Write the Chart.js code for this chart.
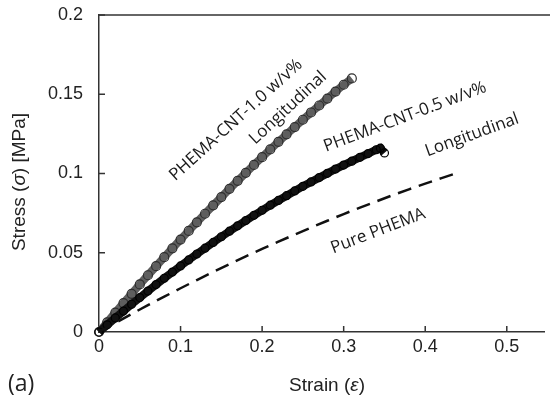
<!DOCTYPE html>
<html>
<head>
<meta charset="utf-8">
<script src="https://cdn.jsdelivr.net/npm/chart.js@4.4.1/dist/chart.umd.min.js"></script>
<style>
  html, body { margin: 0; padding: 0; background: #fff; overflow: hidden; }
</style>
</head>
<body>
<canvas id="c" width="550" height="411"></canvas>
<script>
// strain values (x) and stress values (y, MPa)
var strainCnt10 = [0, 0.01, 0.02, 0.03, 0.04, 0.05, 0.06, 0.07, 0.08, 0.09, 0.10, 0.11, 0.12, 0.13, 0.14, 0.15,
  0.16, 0.17, 0.18, 0.19, 0.20, 0.21, 0.22, 0.23, 0.24, 0.25, 0.26, 0.27, 0.28, 0.29, 0.30, 0.31];
var stressCnt10 = [0, 0.0061, 0.0122, 0.0182, 0.0241, 0.0300, 0.0358, 0.0415, 0.0472, 0.0528, 0.0583, 0.0638,
  0.0692, 0.0746, 0.0799, 0.0851, 0.0903, 0.0954, 0.1004, 0.1054, 0.1103, 0.1152, 0.1200, 0.1247, 0.1293,
  0.1339, 0.1385, 0.1429, 0.1473, 0.1517, 0.1560, 0.1600];

var strainCnt05 = [0, 0.01, 0.02, 0.03, 0.04, 0.05, 0.06, 0.07, 0.08, 0.09, 0.10, 0.11, 0.12, 0.13, 0.14, 0.15,
  0.16, 0.17, 0.18, 0.19, 0.20, 0.21, 0.22, 0.23, 0.24, 0.25, 0.26, 0.27, 0.28, 0.29, 0.30, 0.31, 0.32, 0.33,
  0.34, 0.345, 0.35];
var stressCnt05 = [0, 0.0045, 0.0089, 0.0132, 0.0175, 0.0217, 0.0258, 0.0299, 0.0339, 0.0378, 0.0417, 0.0455,
  0.0492, 0.0529, 0.0565, 0.0601, 0.0636, 0.0670, 0.0703, 0.0736, 0.0768, 0.0800, 0.0830, 0.0860, 0.0890,
  0.0919, 0.0947, 0.0974, 0.1001, 0.1028, 0.1053, 0.1078, 0.1102, 0.1126, 0.1150, 0.1160, 0.1130];

var strainPure = [0, 0.02, 0.04, 0.06, 0.08, 0.10, 0.12, 0.14, 0.16, 0.18, 0.20, 0.22, 0.24, 0.26, 0.28, 0.30,
  0.32, 0.34, 0.36, 0.38, 0.40, 0.42, 0.44];
var stressPure = [0, 0.0057, 0.0114, 0.0169, 0.0223, 0.0276, 0.0328, 0.0379, 0.0428, 0.0477, 0.0524, 0.0570,
  0.0615, 0.0659, 0.0702, 0.0744, 0.0785, 0.0824, 0.0863, 0.0900, 0.0936, 0.0971, 0.1005];

var xTicks = [0, 0.1, 0.2, 0.3, 0.4, 0.5];
var yTicks = [0, 0.05, 0.1, 0.15, 0.2];

function pts(xs, ys) {
  var out = [];
  for (var i = 0; i < xs.length; i++) out.push({x: xs[i], y: ys[i]});
  return out;
}

var axisColor = '#333';
var sans = 'Liberation Sans, Arial, sans-serif';
var tickFont = {family: sans, size: 18};

// draw a run of text pieces, some italic, centred on x
function runText(ctx, parts, x, y) {
  var w = 0;
  parts.forEach(function(p) { ctx.font = p[1]; w += ctx.measureText(p[0]).width; });
  var cx = x - w / 2;
  ctx.textAlign = 'left';
  parts.forEach(function(p) { ctx.font = p[1]; ctx.fillText(p[0], cx, y); cx += ctx.measureText(p[0]).width; });
}

function noPad(s) {
  s.paddingTop = 0; s.paddingBottom = 0; s.paddingLeft = 0; s.paddingRight = 0;
}

var frame = {
  id: 'frame',
  afterDraw: function(chart) {
    var ctx = chart.ctx, a = chart.chartArea;
    var xs = chart.scales.x, ys = chart.scales.y;
    ctx.save();
    ctx.strokeStyle = axisColor;
    ctx.lineWidth = 1.5;
    ctx.beginPath();
    ctx.moveTo(a.left, a.top);
    ctx.lineTo(chart.width, a.top);
    ctx.stroke();
    // inward tick marks
    ctx.beginPath();
    xTicks.forEach(function(v) {
      if (v === 0) return;
      var px = xs.getPixelForValue(v);
      ctx.moveTo(px, a.bottom);
      ctx.lineTo(px, a.bottom - 6);
    });
    yTicks.forEach(function(v) {
      if (v === 0) return;
      var py = ys.getPixelForValue(v);
      ctx.moveTo(a.left, py);
      ctx.lineTo(a.left + 6, py);
    });
    ctx.stroke();

    // axis titles
    ctx.fillStyle = '#222';
    ctx.textBaseline = 'middle';
    var up = '19px ' + sans, it = 'italic 19px ' + sans;
    runText(ctx, [['Strain (', up], ['\u03B5', it], [')', up]], 327, 386);
    ctx.save();
    ctx.translate(20, 182);
    ctx.rotate(-Math.PI / 2);
    runText(ctx, [['Stress (', up], ['\u03C3', it], [') [MPa]', up]], 0, 0);
    ctx.restore();
    ctx.font = '23px Open Sans, sans-serif';
    ctx.textAlign = 'left';
    ctx.fillText('(a)', 8, 384);

    // curve labels
    ctx.font = '17px Open Sans, sans-serif';
    ctx.fillStyle = '#1a1a1a';
    ctx.textAlign = 'center';
    function lbl(t, x, y, deg) {
      ctx.save();
      ctx.translate(x, y);
      ctx.rotate(deg * Math.PI / 180);
      ctx.fillText(t, 0, 0);
      ctx.restore();
    }
    lbl('PHEMA-CNT-1.0 w/v%', 236, 120, -42);
    lbl('Longitudinal', 288, 108, -43);
    lbl('PHEMA-CNT-0.5 w/v%', 405, 117, -20.5);
    lbl('Longitudinal', 472, 135, -20);
    lbl('Pure PHEMA', 378, 231, -21);
    ctx.restore();
  }
};

new Chart(document.getElementById('c'), {
  type: 'scatter',
  data: {
    datasets: [
      {
        label: 'Pure PHEMA',
        data: pts(strainPure, stressPure),
        showLine: true,
        borderColor: '#111',
        borderWidth: 2.5,
        borderDash: [14, 8],
        pointRadius: 0,
        fill: false
      },
      {
        label: 'PHEMA-CNT-0.5 w/v% Longitudinal',
        data: pts(strainCnt05, stressCnt05),
        showLine: true,
        borderColor: '#111',
        borderWidth: 8,
        pointRadius: 4,
        pointBorderWidth: 1.2,
        pointBorderColor: '#000',
        pointBackgroundColor: 'rgba(0,0,0,0)',
        fill: false
      },
      {
        label: 'PHEMA-CNT-1.0 w/v% Longitudinal',
        data: pts(strainCnt10, stressCnt10),
        showLine: true,
        borderColor: '#5e5e5e',
        borderWidth: 8,
        pointRadius: 4.5,
        pointBorderWidth: 1.2,
        pointBorderColor: '#2e2e2e',
        pointBackgroundColor: 'rgba(0,0,0,0)',
        fill: false
      }
    ]
  },
  options: {
    responsive: false,
    animation: false,
    clip: false,
    layout: {padding: {top: 15, right: 0, left: 0, bottom: 0}},
    plugins: {legend: {display: false}, tooltip: {enabled: false}},
    scales: {
      x: {
        type: 'linear',
        min: 0,
        max: 0.546,
        afterBuildTicks: function(s) { s.ticks = xTicks.map(function(v) { return {value: v}; }); },
        afterFit: function(s) { s.height = 79; noPad(s); },
        grid: {display: false, drawTicks: false},
        border: {display: true, color: axisColor, width: 1.5},
        ticks: {color: '#222', font: tickFont, padding: 4, maxRotation: 0,
          callback: function(v) { return String(+v.toFixed(2)); }}
      },
      y: {
        type: 'linear',
        min: 0,
        max: 0.2,
        afterBuildTicks: function(s) { s.ticks = yTicks.map(function(v) { return {value: v}; }); },
        afterFit: function(s) { s.width = 99; noPad(s); },
        grid: {display: false, drawTicks: false},
        border: {display: true, color: axisColor, width: 1.5},
        ticks: {color: '#222', font: tickFont, padding: 16,
          callback: function(v) { return String(+v.toFixed(2)); }}
      }
    }
  },
  plugins: [frame]
});
</script>
</body>
</html>
